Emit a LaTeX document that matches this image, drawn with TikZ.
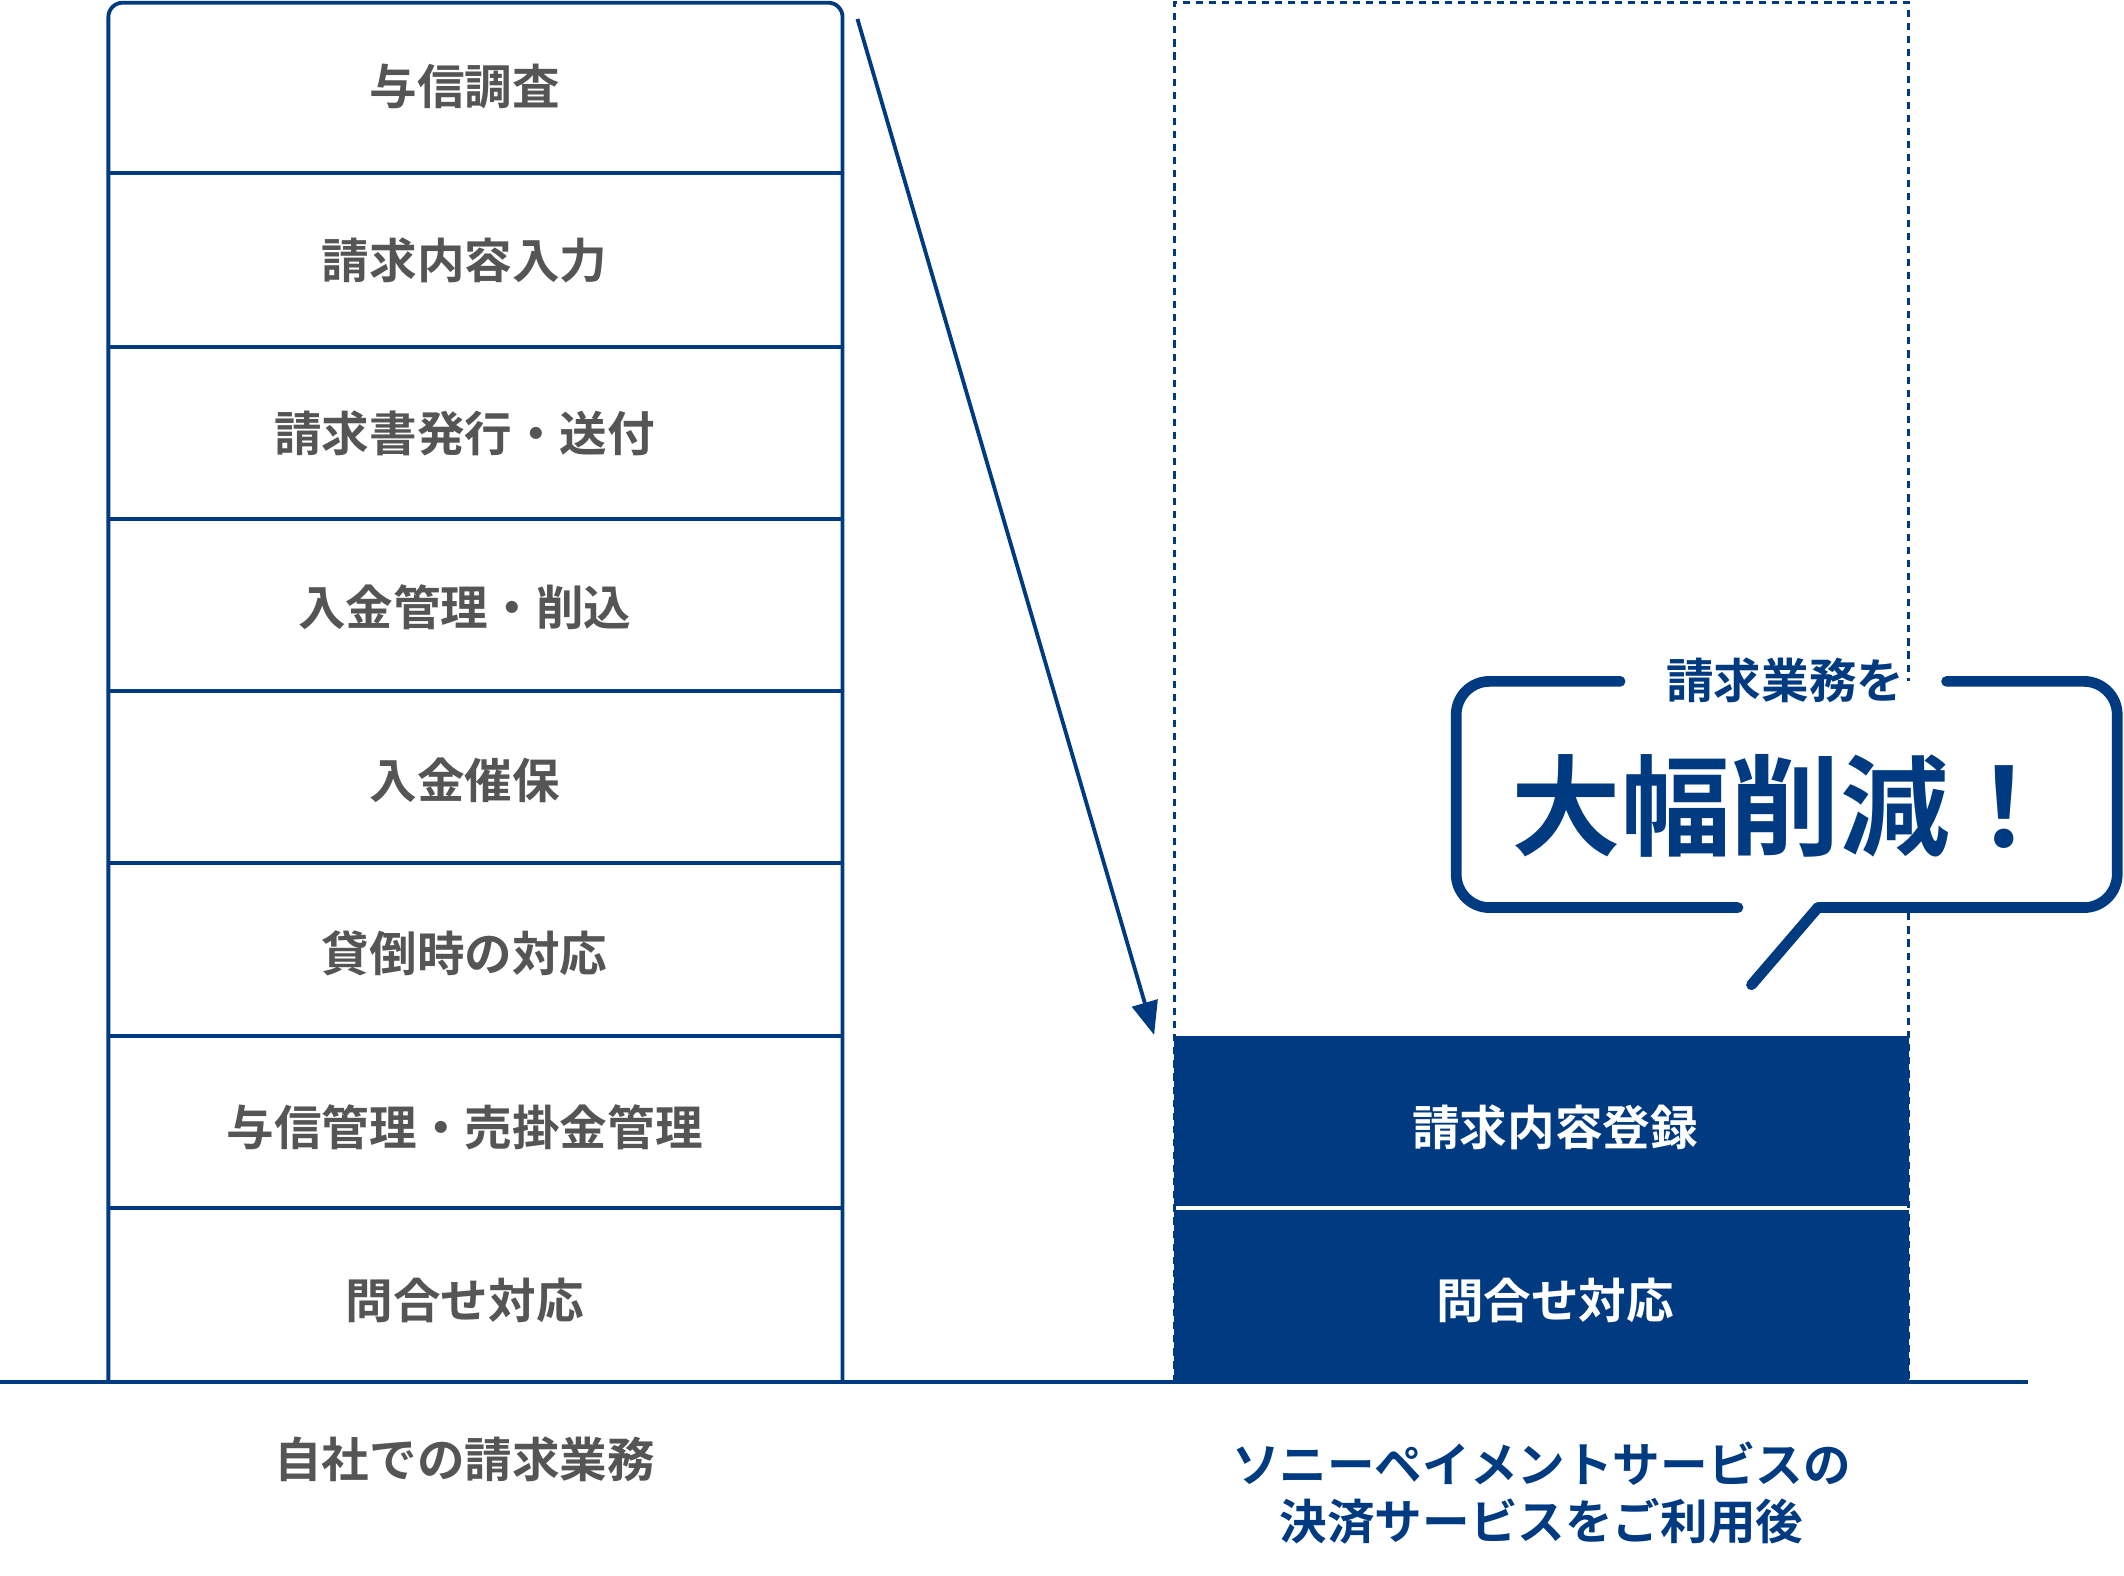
\documentclass[tikz,border=0pt]{standalone}
\usepackage{fontspec}
\setmainfont{Noto Sans CJK JP Bold}
\usetikzlibrary{arrows.meta}
\definecolor{navy}{HTML}{003A80}
\definecolor{txt}{HTML}{555555}
\begin{document}
\begin{tikzpicture}[x=0.02cm,y=-0.02cm,
  row/.style={font=\fontsize{20}{24}\selectfont,text=txt},
  roww/.style={font=\fontsize{20}{24}\selectfont,text=white},
  ln/.style={navy,line width=1.6pt}]
\useasboundingbox (0,0) rectangle (1568,1163);
% left column
\draw[ln,rounded corners=6] (80,1020) -- (80,2) -- (622,2) -- (622,1020);
\foreach \y in {128,256,383,510,637,765,892} \draw[ln] (80,\y) -- (622,\y);
\node[row] (r1) at (343,64) {与信調査};
\node[row] (r2) at (343,192) {請求内容入力};
\node[row] (r3) at (343,320) {請求書発行・送付};
\node[row] (r4) at (343,448) {入金管理・削込};
\node[row] (r5) at (343,576) {入金催保};
\node[row] (r6) at (343,704) {貸倒時の対応};
\node[row] (r7) at (343,832) {与信管理・売掛金管理};
\node[row] (r8) at (343,960) {問合せ対応};
% right
\fill[navy] (867,765) rectangle (1409,1020);
\draw[white,line width=1.6pt] (867,892) -- (1409,892);
\draw[navy,line width=1.2pt,dash pattern=on 3pt off 2.5pt] (867,1020) -- (867,2) -- (1409,2) -- (1409,1020);
\node[roww] (b1) at (1148,832) {請求内容登録};
\node[roww] (b2) at (1148,960) {問合せ対応};
% baseline
\draw[ln] (0,1020) -- (1497,1020);
% arrow
\coordinate (a0) at (633,14);
\coordinate (a1) at (852,764);
\draw[ln,-{Triangle[length=14pt,width=11pt]}] (a0) -- (a1);
% callout
\fill[white] (1075,503) rectangle (1563,670);
\draw[navy,line width=4.5pt,rounded corners=14,line cap=round]
  (1196,503) -- (1075,503) -- (1075,670) -- (1283,670);
\draw[navy,line width=4.5pt,rounded corners=14,line cap=round]
  (1437,503) -- (1563,503) -- (1563,670) -- (1342,670);
\draw[navy,line width=4.5pt,line cap=round] (1342,670) -- (1293,727);
\node[font=\fontsize{20}{24}\selectfont,text=navy] (c1) at (1318,502) {請求業務を};
\node[font=\fontsize{46}{52}\selectfont,text=navy] (c2) at (1318,595) {大幅削減！};
% bottom labels
\node[row] (l1) at (343,1077) {自社での請求業務};
\node[font=\fontsize{20}{24}\selectfont,text=navy,align=center] (l2) at (1138,1102) {ソニーペイメントサービスの\\決済サービスをご利用後};
\end{tikzpicture}
\end{document}
